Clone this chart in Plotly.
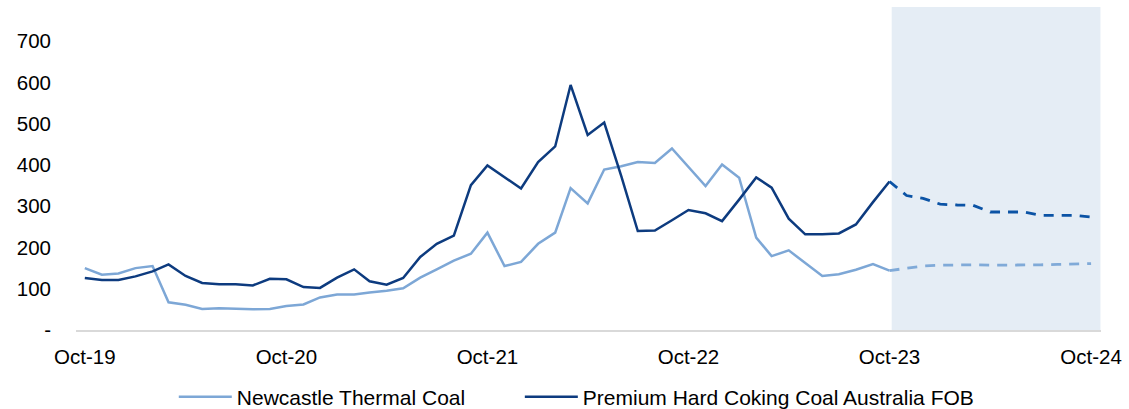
import pandas as pd
import plotly.graph_objects as go

# Monthly history Oct-19 .. Oct-23
hist_dates = pd.date_range("2019-10-01", "2023-10-01", freq="MS")
thermal = [150, 134, 137, 150, 155, 67, 61, 51, 53, 52, 50, 51, 58, 62, 79, 86,
           86, 91, 95, 101, 127, 147, 168, 185, 236, 155, 165, 209, 236, 344, 307,
           389, 397, 407, 405, 440, 394, 349, 401, 369, 224, 179, 193, 163, 131,
           135, 146, 160, 144]
coking = [126, 121, 121, 130, 142, 159, 131, 114, 111, 111, 108, 124, 123, 104, 102,
          127, 147, 118, 110, 126, 177, 209, 229, 351, 399, 371, 343, 407, 445, 594,
          473, 503, 373, 240, 241, 266, 291, 283, 264, 316, 370, 345, 270, 232, 232,
          234, 256, 310, 360]

# Forecast Oct-23 .. Oct-24
fc_dates = pd.date_range("2023-10-01", "2024-10-01", freq="MS")
thermal_fc = [144, 150, 155, 157, 158, 158, 157, 157, 157, 158, 159, 160, 161]
coking_fc = [360, 326, 319, 305, 303, 302, 286, 286, 286, 278, 278, 278, 274]

y_ticks = [0, 100, 200, 300, 400, 500, 600, 700]
y_labels = ["-", "100", "200", "300", "400", "500", "600", "700"]

LIGHT = "#7DA7D6"
DARK = "#0D3B7F"
DARK_FC = "#0B53A5"
LIGHT_FC = "#80AAD8"
FONT = "Liberation Sans, Arial, sans-serif"

fig = go.Figure()
fig.add_trace(go.Scatter(x=hist_dates, y=thermal, mode="lines",
                         name="Newcastle Thermal Coal", legend="legend",
                         line=dict(color=LIGHT, width=2.5)))
fig.add_trace(go.Scatter(x=hist_dates, y=coking, mode="lines",
                         name="Premium Hard Coking Coal Australia FOB", legend="legend2",
                         line=dict(color=DARK, width=2.5)))
fig.add_trace(go.Scatter(x=fc_dates, y=thermal_fc, mode="lines", showlegend=False,
                         line=dict(color=LIGHT_FC, width=2.8, dash="10px,8px")))
fig.add_trace(go.Scatter(x=fc_dates, y=coking_fc, mode="lines", showlegend=False,
                         line=dict(color=DARK_FC, width=2.8, dash="10px,8px")))

fig.add_shape(type="rect", xref="x", yref="paper",
              x0="2023-10-05", x1="2024-10-18", y0=0, y1=1,
              fillcolor="#E5EDF5", line=dict(width=0), layer="below")

legend_common = dict(orientation="h", xanchor="left", yref="container",
                     y=0.0293, yanchor="middle", itemwidth=53,
                     font=dict(size=21), bgcolor="rgba(0,0,0,0)")

fig.update_layout(
    width=1129, height=409,
    margin=dict(l=76, r=24, t=7, b=79),
    paper_bgcolor="white", plot_bgcolor="white",
    font=dict(family=FONT, size=20.5, color="#000000"),
    showlegend=True,
    legend=dict(x=0.0954, **legend_common),
    legend2=dict(x=0.433, **legend_common),
    xaxis=dict(range=["2019-09-15", "2024-10-19"], tickformat="%b-%y",
               tick0="2019-10-01", dtick="M12", showgrid=False, zeroline=False,
               showline=True, linecolor="#D9D9D9", linewidth=1.5, ticks="",
               ticklabelstandoff=8, tickfont=dict(size=20.5)),
    yaxis=dict(range=[0, 783], tickvals=y_ticks, ticktext=y_labels,
               showgrid=False, zeroline=False, showline=False, ticks="",
               ticklabelstandoff=24, tickfont=dict(size=20.5)),
)

fig.write_html("out.html", config={"displayModeBar": False},
               post_script="document.body.style.margin='0';document.body.style.overflow='hidden';")
